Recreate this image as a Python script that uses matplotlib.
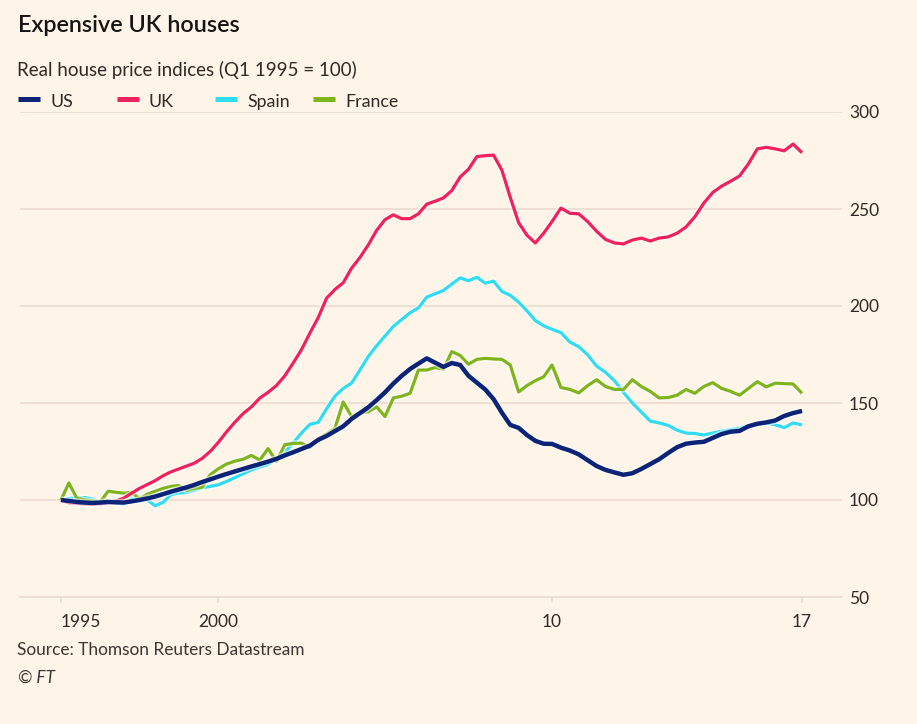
import numpy as np
import matplotlib
matplotlib.use("Agg")
import matplotlib.pyplot as plt
from matplotlib.lines import Line2D
import matplotlib.patheffects as pe
from matplotlib.scale import FuncScale

# ---------------- data (quarterly, Q1 1995 = 100) ----------------
quarters = np.arange(1995.0, 2017.001, 0.25)

us = [100, 99.5, 99, 98.7,
      98.5, 98.7, 99, 98.8,
      98.7, 99.3, 100, 100.8,
      101.8, 103, 104.3, 105.4,
      106.5, 107.8, 109.3, 110.6,
      112, 113.4, 114.7, 116,
      117.3, 118.5, 119.8, 121.2,
      123, 124.6, 126.3, 128,
      131, 133, 135.5, 138,
      141.8, 144.8, 147.8, 151.5,
      155.5, 160, 164, 167.5,
      170.3, 173, 170.8, 168.6,
      170.6, 169.6, 164, 160.5,
      157, 152, 145, 138.7,
      137.2, 133.5, 130.5, 129,
      128.9, 127, 125.5, 123.5,
      120.5, 117.5, 115.5, 114.2,
      113, 113.8, 116, 118.5,
      121, 124.2, 127.2, 129,
      129.6, 130, 132, 134,
      135.2, 135.6, 138, 139.3,
      140, 141, 143.3, 144.8,
      145.9]

uk = [100, 98.5, 98.3, 98,
      97.8, 98, 98.5, 99.5,
      101, 103.5, 106, 108,
      110, 112.5, 114.5, 116,
      117.5, 119, 121.5, 125,
      129.5, 135, 140, 144.5,
      148, 152.5, 155.5, 159,
      164, 170.6, 177.5, 186,
      194, 204, 208.5, 212,
      219.5, 225, 231.5, 239,
      244.5, 247, 245, 245,
      247.5, 252.5, 254, 255.7,
      259.5, 266.5, 270.5, 277,
      277.5, 277.8, 270, 256,
      243, 236.5, 232.5, 237.5,
      243.5, 250.5, 247.8, 247.5,
      243.5, 238.5, 234.3, 232.5,
      232, 234, 235, 233.5,
      235, 235.6, 237.5, 240.7,
      246, 253, 258.5, 261.8,
      264.3, 267, 273.3, 281,
      281.8, 281, 280, 283.5,
      279]

spain = [100, 100.8, 101, 101.3,
         100.5, 99, 98.8, 98.5,
         97.8, 100.5, 101.5, 100,
         97, 98.8, 102.8, 103.6,
         104, 105, 106.3, 107,
         107.8, 109.5, 111.5, 113.5,
         115.5, 117, 118.3, 121,
         124.5, 129.5, 134.5, 139,
         140, 147, 153.5, 157.5,
         160.3, 167, 174, 179.5,
         184.5, 189.5, 193, 196.5,
         199, 204.6, 206.3, 208,
         211.3, 214.5, 213, 214.8,
         211.8, 212.8, 207.5, 205.5,
         202, 197.5, 192.5, 189.8,
         188, 186.3, 181.4, 179,
         174.8, 169, 165.8, 161.5,
         155.5, 150, 145.3, 140.7,
         139.7, 138.5, 136, 134.5,
         134.3, 133.5, 134.5, 135.4,
         136.3, 137, 138.2, 139,
         139.7, 138.8, 137.3, 139.7,
         138.7]

france = [100, 108.8, 101, 100,
          99.5, 99, 104.5, 104,
          103.5, 104, 100.5, 103,
          104.5, 106, 107, 107.5,
          105, 106, 106.7, 113,
          116, 118.5, 120, 121,
          123, 120.6, 126.5, 119.8,
          128.5, 129.2, 129.3, 127,
          131.5, 134, 137, 150.5,
          143, 145, 145.5, 148,
          143, 152.6, 153.5, 155,
          167, 167, 168.3, 167.5,
          176.5, 174.5, 170, 172.5,
          173, 172.7, 172.5, 169.6,
          155.7, 159, 161.5, 163.5,
          169.6, 158, 157, 155.2,
          159, 162, 158.5, 157,
          157, 162, 158.5, 156,
          152.6, 152.8, 154, 157,
          155, 158.5, 160.5, 157.5,
          156, 154, 157.5, 161,
          158.3, 160.2, 160, 159.8,
          155]

series_names = ["US", "UK", "Spain", "France"]
series_colors = ["#0c2478", "#f0215c", "#30dcf2", "#7fb51c"]

x_ticks = [1995, 2000, 2010, 2017]
x_tick_labels = ["1995", "2000", "10", "17"]
y_ticks = [50, 100, 150, 200, 250, 300]

title = "Expensive UK houses"
subtitle = "Real house price indices (Q1 1995 = 100)"
source = "Source: Thomson Reuters Datastream"
credit = "\u00a9 FT"

# ---------------- style ----------------
BG = "#fff4e8"
GRID = "#eed8cc"
TXT = "#2e2a27"
FONT = ["Lato", "DejaVu Sans"]
plt.rcParams["font.family"] = FONT

# piecewise time scale to follow the reference's tick spacing
YB = np.array([1995.0, 2000.0, 2010.0, 2017.0])
PB = np.array([0.0, 157.0, 491.0, 741.0])
S_LO = (PB[1] - PB[0]) / (YB[1] - YB[0])
S_HI = (PB[3] - PB[2]) / (YB[3] - YB[2])


def fwd(x):
    x = np.asarray(x, dtype=float)
    mid = np.interp(x, YB, PB)
    return np.where(x < YB[0], PB[0] + (x - YB[0]) * S_LO,
                    np.where(x > YB[-1], PB[-1] + (x - YB[-1]) * S_HI, mid))


def inv(p):
    p = np.asarray(p, dtype=float)
    mid = np.interp(p, PB, YB)
    return np.where(p < PB[0], YB[0] + (p - PB[0]) / S_LO,
                    np.where(p > PB[-1], YB[-1] + (p - PB[-1]) / S_HI, mid))


W, H = 917, 724
fig = plt.figure(figsize=(W / 100, H / 100), dpi=100, facecolor=BG)
ax = fig.add_axes([20 / W, 1 - 597 / H, (842 - 20) / W, (597 - 112) / H])
ax.set_facecolor(BG)
ax.set_xscale(FuncScale(ax, (fwd, inv)))
ax.set_xlim(1995 - 41 / S_LO, 2017 + 40 / S_HI)
ax.set_ylim(50, 300)

for v in y_ticks[1:]:
    ax.axhline(v, color=GRID, lw=1.1, zorder=1)

data = [us, uk, spain, france]
order = [2, 3, 1, 0]  # Spain, France, UK, US on top
for i in order:
    lw = 3.2 if series_names[i] == "US" else 2.3
    ax.plot(quarters, data[i], color=series_colors[i], lw=lw,
            solid_joinstyle="round", solid_capstyle="butt", zorder=3 + (i == 0),
            path_effects=[pe.Stroke(linewidth=lw + 2.2, foreground="#ffffff", alpha=0.55),
                          pe.Normal()])

for s in ["top", "left", "right"]:
    ax.spines[s].set_visible(False)
ax.spines["bottom"].set_color(GRID)
ax.spines["bottom"].set_linewidth(1.1)

ax.set_xticks(x_ticks)
ax.set_xticklabels(x_tick_labels)
ax.tick_params(axis="x", length=4, width=1.1, color=GRID, labelsize=12.5,
               labelcolor=TXT, pad=8)
labs = ax.get_xticklabels()
labs[0].set_horizontalalignment("left")

ax.yaxis.tick_right()
ax.set_yticks(y_ticks)
ax.set_yticklabels([str(v) for v in y_ticks])
ax.tick_params(axis="y", length=0, labelsize=12.5, labelcolor=TXT, pad=5)
for lab in ax.get_yticklabels():
    lab.set_horizontalalignment("left")

# titles
fig.text(18 / W, 1 - 32 / H, title, fontsize=16.8, fontweight="semibold",
         color="#141414", va="baseline", ha="left")
fig.text(17 / W, 1 - 76 / H, subtitle, fontsize=13.5, color=TXT,
         va="baseline", ha="left")

# legend
leg_marker_x = [18, 117, 215, 313]
leg_text_x = [50, 148, 247, 345]
for i in range(4):
    fig.add_artist(Line2D([leg_marker_x[i] / W, (leg_marker_x[i] + 22) / W],
                          [1 - 99 / H, 1 - 99 / H], transform=fig.transFigure,
                          color=series_colors[i], lw=3.6, solid_capstyle="butt"))
    fig.text(leg_text_x[i] / W, 1 - 107 / H, series_names[i], fontsize=12.8,
             color=TXT, va="baseline", ha="left")

fig.text(17 / W, 1 - 655 / H, source, fontsize=12.4, color="#3b3633",
         va="baseline", ha="left")
fig.text(18 / W, 1 - 683 / H, credit, fontsize=12.4, color="#3b3633",
         va="baseline", ha="left", style="italic")

fig.savefig("out.png", dpi=100, facecolor=BG)
